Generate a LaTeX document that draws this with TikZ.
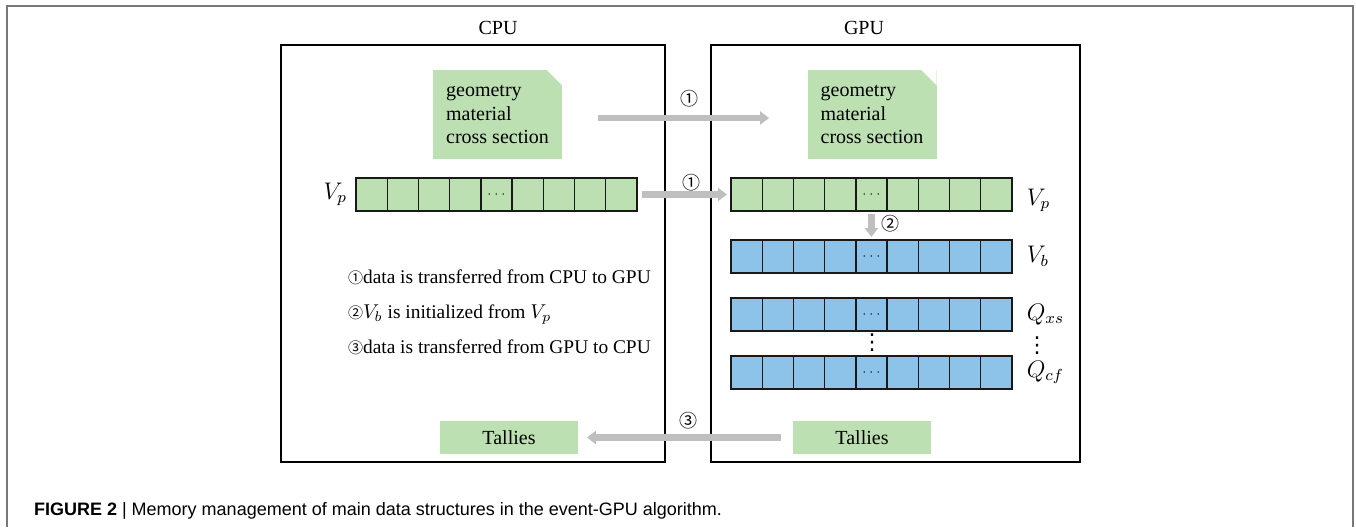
\documentclass[tikz,border=0pt]{standalone}
\usepackage{fontspec}
\setmainfont{Liberation Serif}
\newfontfamily\circfont{Noto Sans CJK SC}
\newfontfamily\symfont{DejaVu Sans}
\newfontfamily\capfont{Liberation Sans}
\usetikzlibrary{arrows.meta,positioning}

\definecolor{cellgreen}{RGB}{189,224,178}
\definecolor{cellblue}{RGB}{141,195,232}
\definecolor{movegray}{RGB}{191,191,191}
\definecolor{framegray}{RGB}{120,120,120}

\begin{document}
\begin{tikzpicture}[x=0.5pt,y=-0.5pt,
                    font=\fontsize{10}{11.8}\selectfont,
                    >={Triangle[length=4.5pt,width=6.5pt]}]

  \tikzstyle{panel}=[draw,line width=0.7pt,minimum height=208.5pt,inner sep=0pt]
  \tikzstyle{doc}=[fill=cellgreen,align=left,minimum width=64.5pt,minimum height=44.5pt,
                   path picture={\fill[white] (path picture bounding box.north east)
                     -- ++(-7.5pt,0) -- ++(7.5pt,-7.5pt) -- cycle;}]
  \tikzstyle{store}=[fill=cellgreen,minimum width=69pt,minimum height=16.5pt]
  \tikzstyle{cell}=[draw=black!90,line width=0.7pt,minimum width=15.6pt,
                    minimum height=16.5pt,inner sep=0pt,outer sep=0pt,
                    font=\fontsize{6}{6}\selectfont]
  \tikzstyle{arrlabel}=[font=\fontsize{12}{14}\selectfont]
  \tikzstyle{vdotsmark}=[font=\symfont\fontsize{11}{11}\selectfont,inner sep=0pt]
  \tikzstyle{move}=[->,movegray,line width=3.2pt]
  \tikzstyle{circnum}=[font=\circfont\fontsize{9}{9}\selectfont,inner sep=0pt]

  \useasboundingbox (0,0) rectangle (1356,527);
  \draw[framegray,line width=0.8pt] (7,527) -- (7,6) -- (1353,6) -- (1353,527);

  % host and device
  \node[panel,minimum width=192pt]   (cpu) at (473,253.5) {};
  \node[panel,minimum width=184.5pt] (gpu) at (895.5,253.5) {};
  \node (cpul) at (498,28) {CPU};
  \node (gpul) at (864,28) {GPU};

  \node[doc] (geoc) at (497.5,114.5) {geometry\\material\\cross section};
  \node[doc] (geog) at (872,114.5)   {geometry\\material\\cross section};

  % particle and bank arrays
  \foreach \nm/\xo/\yo/\col in {vpc/356/178/cellgreen,vpg/731/178/cellgreen,
                               vb/731/240/cellblue,qxs/731/298/cellblue,
                               qcf/731/356/cellblue}
    \foreach \i in {1,...,9}
      \node[cell,fill=\col] (\nm\i) at ({\xo+(\i-0.5)*31.2},{\yo+16.5})
        {\ifnum\i=5 $\cdots$\fi};

  \node[arrlabel] (vpcl) [left=1pt of vpc1] {$V_p$};
  \node[arrlabel] (vpgl) [right=4pt of vpg9,yshift=-3pt] {$V_p$};
  \node[arrlabel] (vbl)  [right=4pt of vb9]  {$V_b$};
  \node[arrlabel] (qxsl) [right=4pt of qxs9] {$Q_{xs}$};
  \node[arrlabel] (qcfl) [right=4pt of qcf9] {$Q_{cf}$};
  \node[vdotsmark] (dotsa) at (872,343) {⋮};
  \node[vdotsmark] (dotsb) at (1037,346) {⋮};

  % legend
  \node[anchor=base west,font=\fontsize{9.7}{11}\selectfont] (lega) at (341,283)
    {{\circfont\fontsize{7.5}{7.5}\selectfont ①}data is transferred from CPU to GPU};
  \node[anchor=base west,font=\fontsize{9.7}{11}\selectfont] (legb) at (341,318)
    {{\circfont\fontsize{7.5}{7.5}\selectfont ②}$V_b$ is initialized from $V_p$};
  \node[anchor=base west,font=\fontsize{9.7}{11}\selectfont] (legc) at (341,353)
    {{\circfont\fontsize{7.5}{7.5}\selectfont ③}data is transferred from GPU to CPU};

  \node[store] (talc) at (509,437.5) {Tallies};
  \node[store] (talg) at (862,437.5) {Tallies};

  % transfers
  \draw[move,shorten <=18pt,shorten >=19pt]
    ([yshift=-1.75pt]geoc.east) -- ([yshift=-1.75pt]geog.west);
  \draw[move,shorten <=2.5pt,shorten >=2pt] (vpc9.east) -- (vpg1.west);
  \draw[move,shorten <=1.5pt,shorten >=1.5pt] (vpg5.south) -- (vb5.north);
  \draw[move,shorten <=6pt,shorten >=4.25pt] (talg.west) -- (talc.east);

  \node[circnum] (ta) at (689.5,98.5) {①};
  \node[circnum] (tb) at (691.5,183)  {①};
  \node[circnum] (tc) at (890.5,224)  {②};
  \node[circnum] (td) at (688,421)    {③};

  \node[anchor=base west,font=\capfont\fontsize{9}{11}\selectfont] (cap) at (27,515)
    {\textbf{FIGURE 2} | Memory management of main data structures in the event-GPU algorithm.};
\end{tikzpicture}
\end{document}
